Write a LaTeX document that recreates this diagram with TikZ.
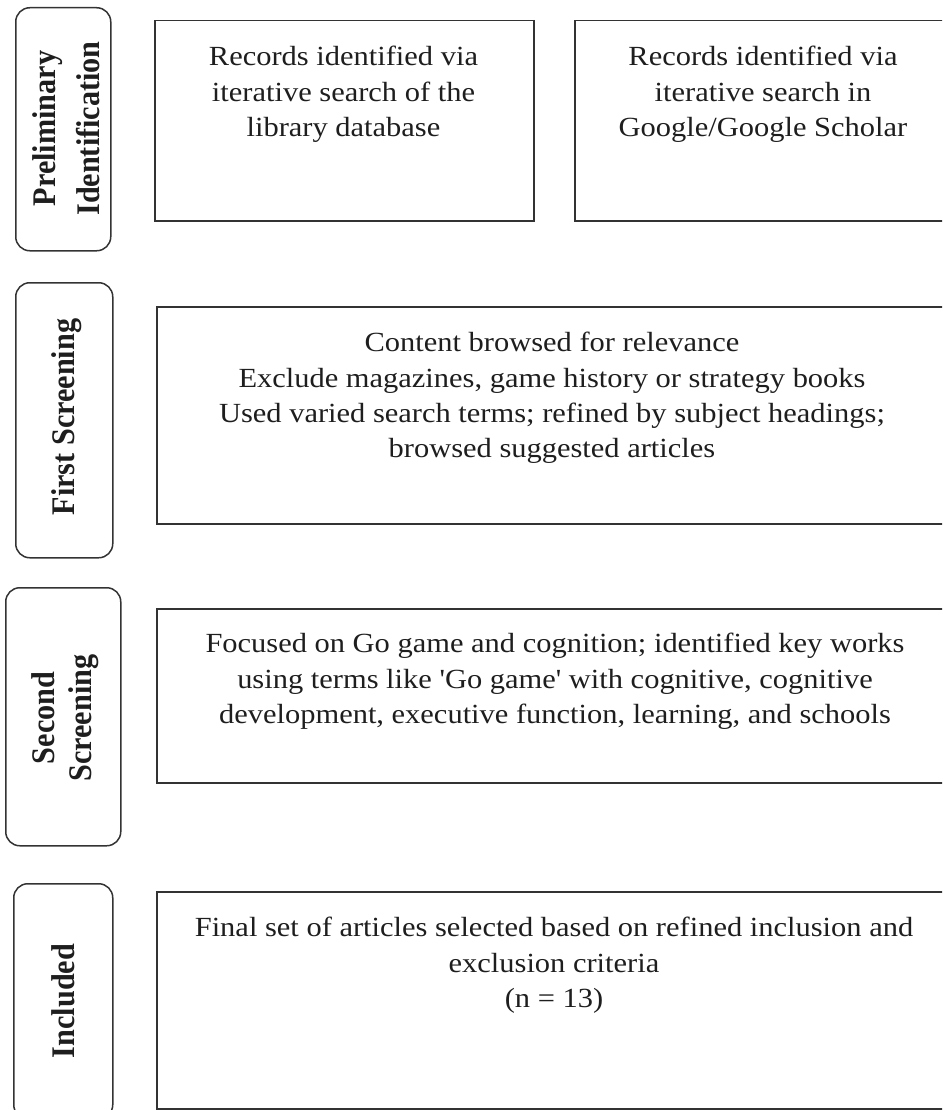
\documentclass[tikz,border=0pt]{standalone}
\usepackage{fontspec}
\setmainfont{Liberation Serif}
\newfontfamily\bodyfont[FakeStretch=1.1]{Liberation Serif}
\newfontfamily\labfont[FakeStretch=0.915]{Liberation Serif}
\definecolor{lineC}{HTML}{333333}
\definecolor{txtC}{HTML}{1E1E1E}
\begin{document}
\begin{tikzpicture}[x=1pt,y=-1pt,
  stage/.style={draw=lineC, line width=1.5pt, rounded corners=14pt, anchor=north west, inner sep=0pt},
  boxR/.style={draw=lineC, line width=1.5pt, anchor=north west, inner sep=0pt},
  body/.style={font=\bodyfont\fontsize{27.7}{35.3}\selectfont, align=center, inner sep=0pt, anchor=north, text=txtC},
  lab/.style={font=\labfont\bfseries\fontsize{33}{44}\selectfont, align=center, inner sep=0pt, rotate=90, text=txtC}]
\path[clip] (0,0) rectangle (942,1110);
% stage boxes (left)
\node[stage, minimum width=95pt, minimum height=243pt] (s1) at (15,7) {};
\node[stage, minimum width=97pt, minimum height=275pt] (s2) at (15,282) {};
\node[stage, minimum width=115pt, minimum height=258pt] (s3) at (5,587) {};
\node[stage, minimum width=99pt, minimum height=235pt] (s4) at (13,883) {};
% stage labels
\node[lab] (l1) at (66.5,128.5) {Preliminary\\Identification};
\node[lab] (l2) at (67,417) {First Screening};
\node[lab, font=\labfont\bfseries\fontsize{33}{37}\selectfont] (l3) at (65.5,718) {Second\\Screening};
\node[lab] (l4) at (63.5,1001) {Included};
% content boxes
\node[boxR, minimum width=379pt, minimum height=200pt] (p1) at (154,20) {};
\node[boxR, minimum width=380pt, minimum height=200pt] (p2) at (574,20) {};
\node[boxR, minimum width=796pt, minimum height=217pt] (b2) at (156,306) {};
\node[boxR, minimum width=796pt, minimum height=174pt] (b3) at (156,608) {};
\node[boxR, minimum width=796pt, minimum height=217pt] (b4) at (156,891) {};
% texts
\node[body] (t1) at (343.5,46) {Records identified via\\iterative search of the\\library database};
\node[body] (t2) at (763,46) {Records identified via\\iterative search in\\Google/Google Scholar};
\node[body] (t3) at (552,332) {Content browsed for relevance\\Exclude magazines, game history or strategy books\\Used varied search terms; refined by subject headings;\\browsed suggested articles};
\node[body] (t4) at (555,633) {Focused on Go game and cognition; identified key works\\using terms like 'Go game' with cognitive, cognitive\\development, executive function, learning, and schools};
\node[body] (t5) at (554,917) {Final set of articles selected based on refined inclusion and\\exclusion criteria\\(n = 13)};
\end{tikzpicture}
\end{document}
